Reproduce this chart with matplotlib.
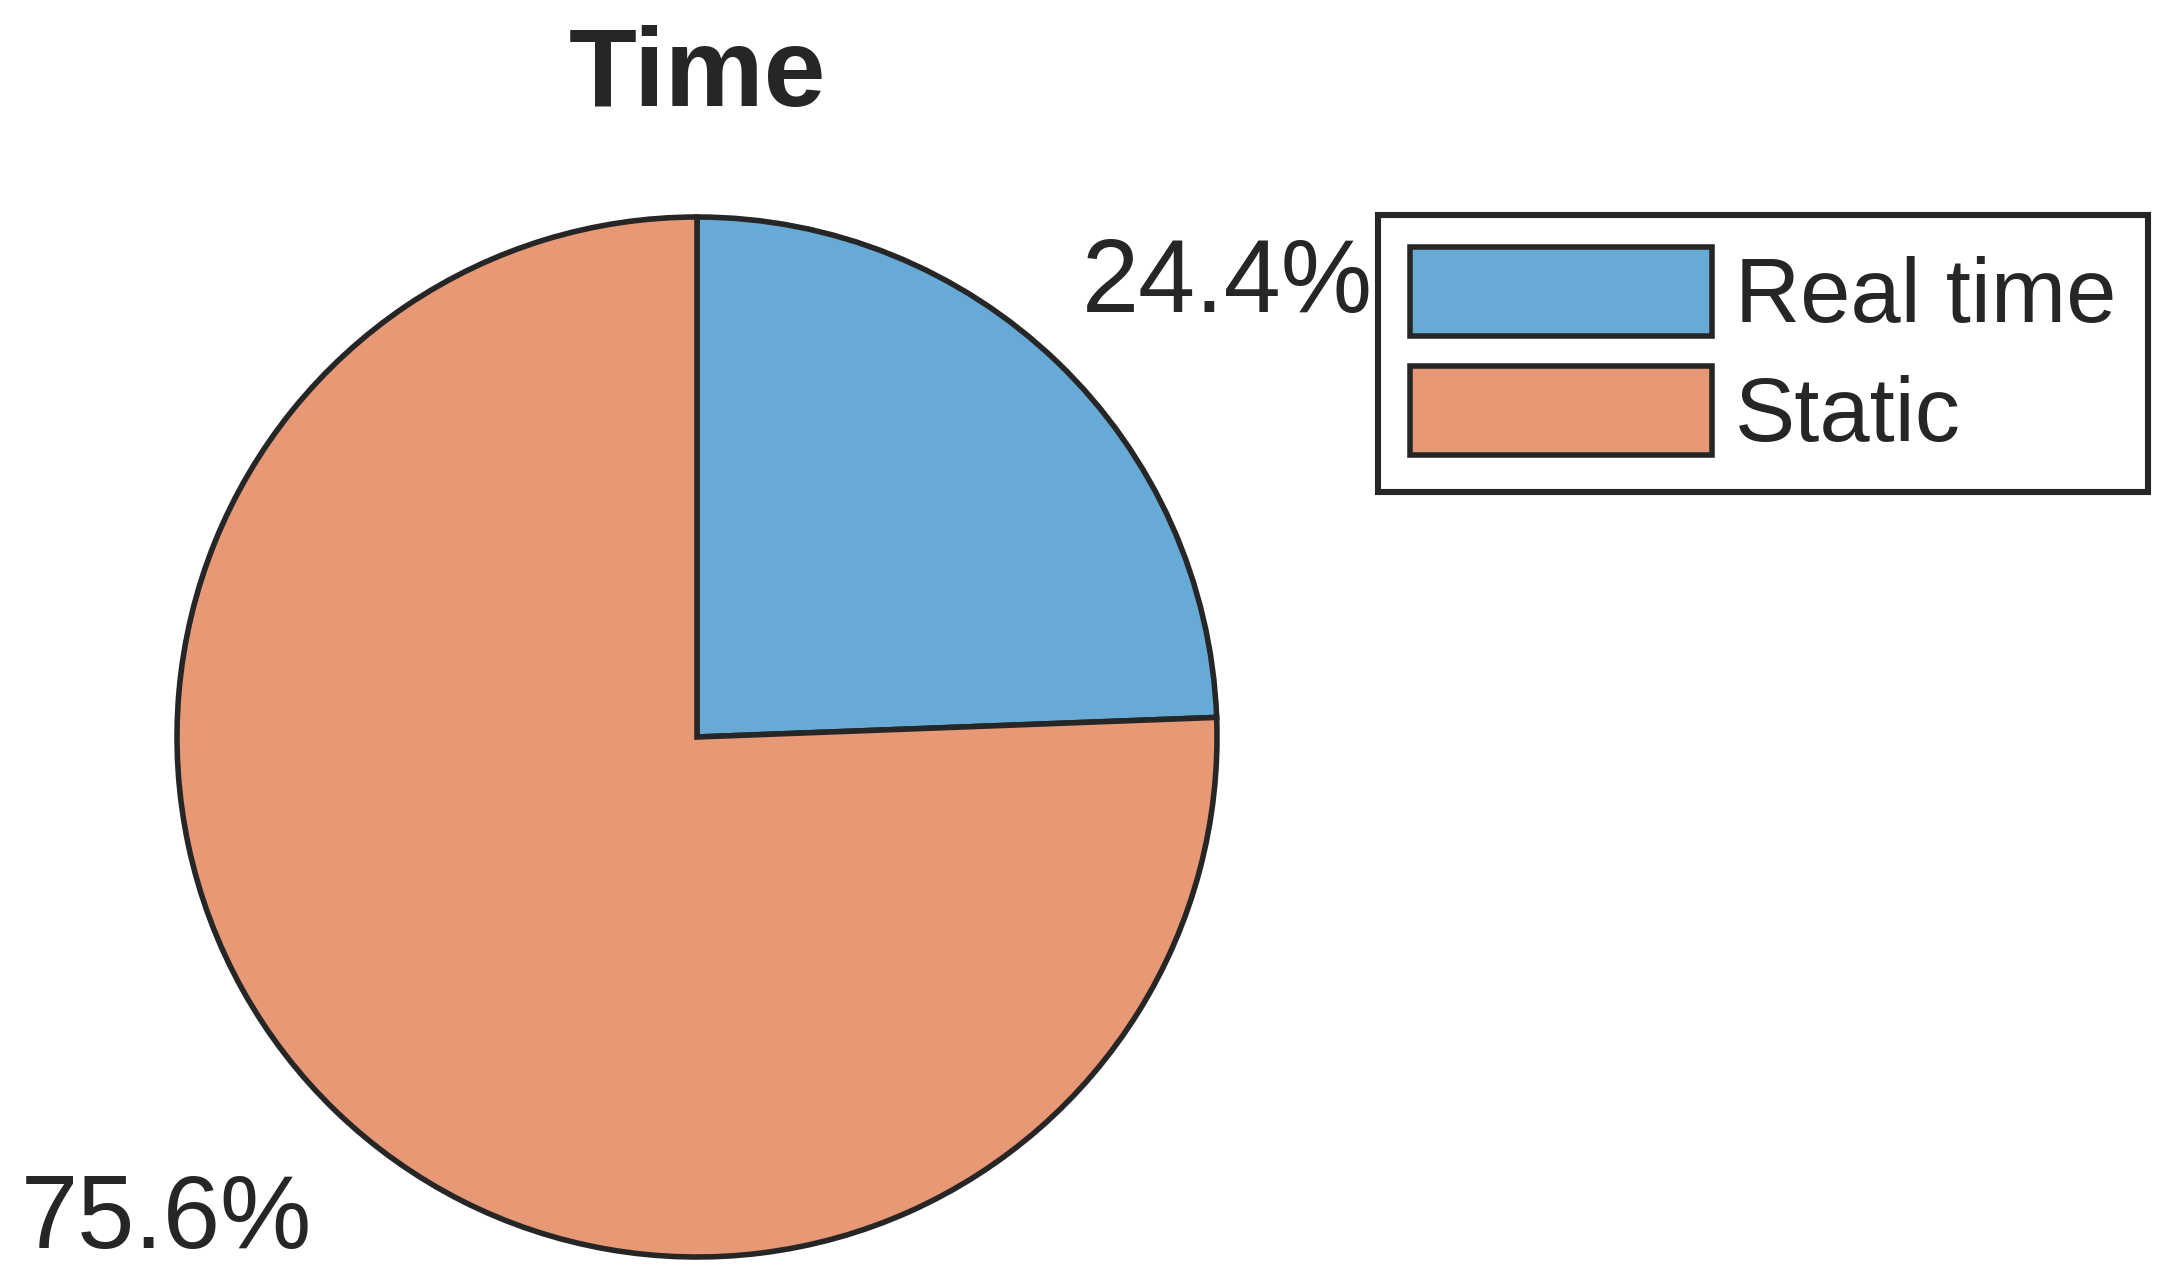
import matplotlib.pyplot as plt
import numpy as np

# --- DONNEES ---
labels = ['Real time', 'Static']
shares = [24.4, 75.6]
colors = ['#67aad5', '#e79875']

plt.rcParams['font.family'] = ['Liberation Sans', 'DejaVu Sans']
plt.rcParams['text.color'] = '#262626'

fig = plt.figure(figsize=(2173 / 200, 1283 / 200), dpi=200)
ax = fig.add_axes([177 / 2173, 26 / 1283, 1040 / 2173, 1040 / 1283])

wedges, texts, autotexts = ax.pie(
    shares, colors=colors, startangle=90, counterclock=False,
    autopct='%1.1f%%', pctdistance=1.25,
    wedgeprops=dict(edgecolor='#262626', linewidth=2.0),
    textprops=dict(fontsize=37, color='#262626'))
# labels pushed a bit more outwards horizontally, slightly lower
for t in autotexts:
    x, y = t.get_position()
    t.set_position((x * 1.47 / 1.25, y - 0.032))
ax.set_xlim(-1, 1)
ax.set_ylim(-1, 1)
ax.set_aspect('equal')

ax.set_title('Time', fontsize=40, fontweight='bold', pad=40)

leg = ax.legend(wedges, labels, loc='upper right',
                bbox_to_anchor=(2148 / 2173, 1 - 215 / 1283),
                bbox_transform=fig.transFigure,
                fontsize=32.5, fancybox=False, frameon=True, framealpha=1,
                handlelength=3.35, handleheight=1.14, handletextpad=0.25,
                labelspacing=0.28, borderpad=0.35, borderaxespad=0)
leg.get_frame().set_edgecolor('#262626')
leg.get_frame().set_linewidth(2.2)

fig.savefig('out.png', dpi=200)
